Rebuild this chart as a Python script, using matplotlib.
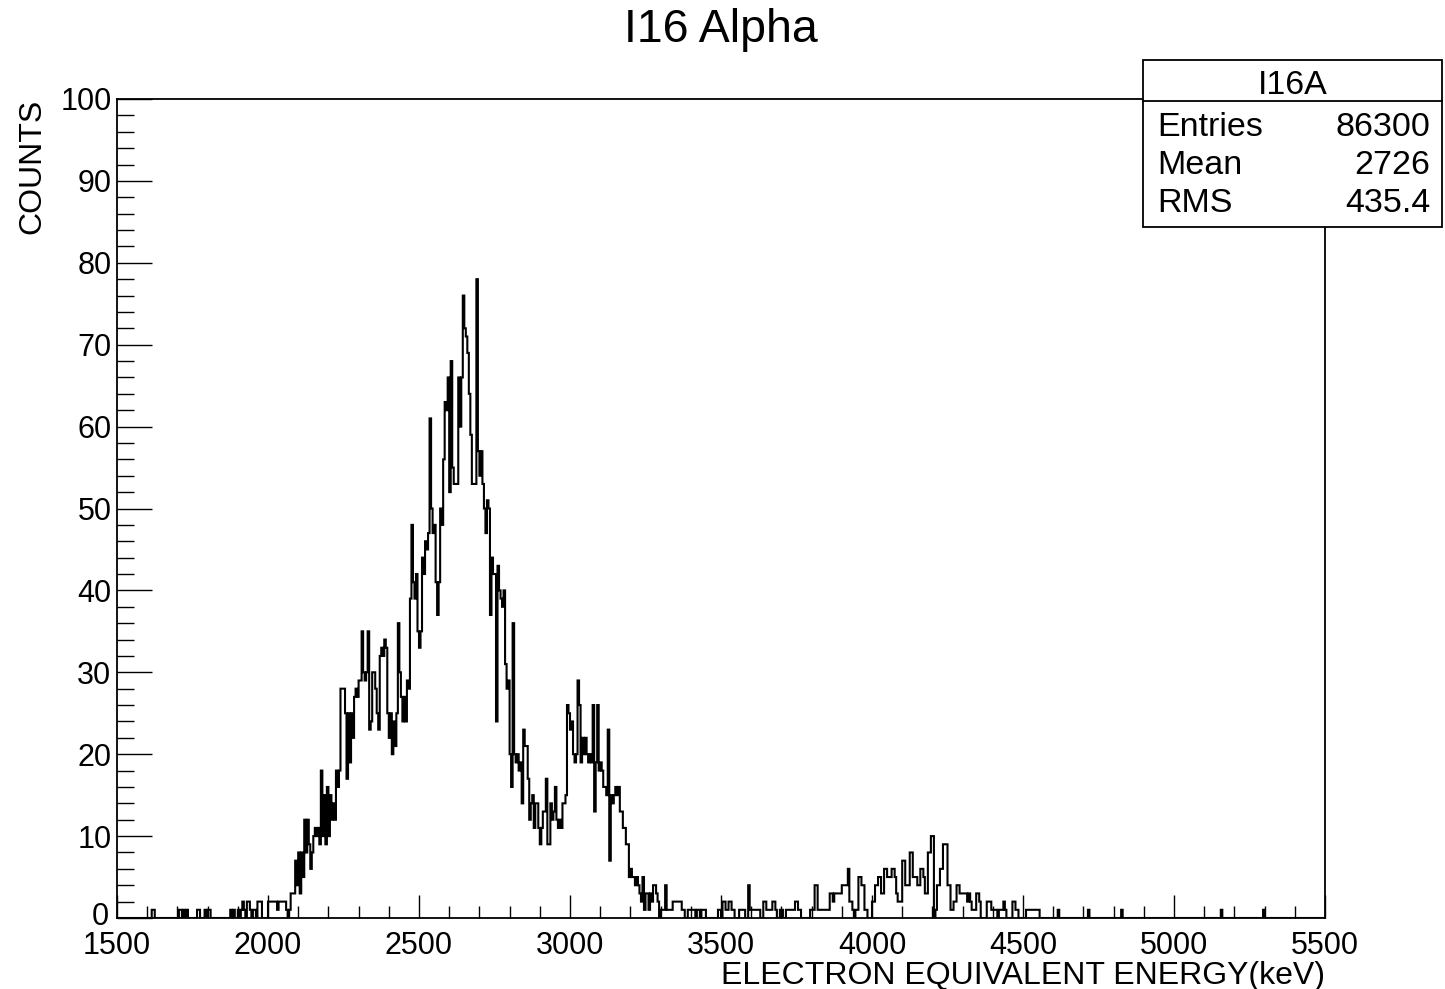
import numpy as np
import matplotlib
matplotlib.use("Agg")
import matplotlib.pyplot as plt
from matplotlib.patches import Rectangle
from matplotlib.lines import Line2D
from matplotlib.ticker import MultipleLocator, FixedLocator

plt.rcParams['font.family'] = ['Liberation Sans', 'DejaVu Sans']

# ---------------- data (5 keV bins) ----------------
bin_width = 5
x_min, x_max = 1500, 5500

counts_2000_2500 = [
    2, 2, 2, 2, 2, 2, 1, 2, 2, 2,
    2, 2, 1, 0, 1, 3, 3, 3, 7, 4,
    8, 3, 8, 5, 12, 8, 12, 9, 6, 8,
    10, 11, 10, 11, 9, 18, 10, 15, 9, 16,
    10, 15, 12, 14, 12, 18, 16, 18, 28, 28,
    28, 25, 17, 25, 19, 25, 22, 27, 28, 27,
    29, 29, 35, 30, 29, 30, 35, 23, 24, 30,
    30, 28, 25, 23, 32, 33, 32, 34, 33, 25,
    22, 25, 20, 24, 21, 25, 36, 30, 27, 24,
    27, 24, 29, 28, 39, 48, 41, 39, 42, 35,
]
counts_2500_3000 = [
    33, 35, 44, 42, 46, 45, 47, 61, 50, 47,
    48, 41, 37, 41, 50, 48, 56, 63, 62, 66,
    52, 68, 55, 53, 53, 53, 66, 60, 66, 76,
    72, 71, 69, 64, 59, 53, 53, 53, 78, 57,
    54, 57, 53, 50, 47, 51, 50, 37, 44, 42,
    42, 24, 43, 40, 39, 38, 40, 31, 28, 29,
    20, 16, 36, 20, 19, 20, 18, 19, 14, 23,
    21, 21, 17, 12, 14, 15, 11, 14, 14, 11,
    9, 11, 13, 13, 17, 9, 9, 14, 12, 13,
    16, 12, 11, 12, 11, 14, 14, 15, 26, 25,
]
counts_3000_3500 = [
    23, 24, 20, 19, 20, 29, 26, 19, 22, 20,
    22, 20, 19, 20, 19, 26, 13, 19, 26, 18,
    19, 18, 16, 16, 15, 23, 7, 15, 14, 15,
    16, 15, 16, 13, 13, 11, 11, 9, 9, 5,
    6, 5, 5, 4, 5, 4, 3, 2, 5, 1,
    3, 3, 1, 3, 2, 4, 4, 3, 2, 0,
    1, 1, 1, 4, 1, 1, 1, 1, 2, 2,
    2, 2, 2, 2, 1, 1, 0, 0, 1, 1,
    1, 1, 1, 0, 1, 1, 0, 1, 1, 1,
    0, 0, 0, 0, 0, 0, 0, 0, 1, 1,
]
counts_3500_4000 = [
    0, 2, 2, 1, 1, 2, 2, 1, 1, 0,
    0, 0, 1, 1, 1, 1, 0, 0, 4, 1,
    1, 1, 1, 1, 1, 1, 0, 0, 2, 2,
    1, 1, 1, 1, 2, 2, 1, 0, 0, 1,
    1, 0, 0, 1, 1, 1, 1, 1, 1, 2,
    2, 1, 1, 0, 0, 0, 0, 0, 0, 1,
    1, 1, 4, 4, 1, 1, 1, 1, 1, 1,
    1, 1, 3, 3, 2, 3, 3, 3, 3, 3,
    4, 4, 4, 4, 6, 2, 2, 1, 0, 1,
    1, 5, 5, 4, 4, 1, 1, 0, 0, 0,
]
counts_4000_4600 = [
    2, 2, 4, 4, 5, 5, 3, 3, 6, 6,
    5, 5, 5, 6, 6, 5, 3, 2, 2, 2,
    7, 7, 4, 4, 4, 8, 8, 5, 5, 5,
    4, 4, 6, 6, 5, 3, 3, 8, 8, 10,
    10, 0, 1, 4, 4, 6, 6, 9, 9, 9,
    4, 4, 1, 1, 2, 2, 4, 4, 3, 3,
    3, 3, 3, 2, 3, 2, 1, 1, 1, 3,
    3, 2, 0, 0, 0, 0, 2, 2, 2, 1,
    1, 1, 1, 0, 1, 1, 1, 2, 1, 0,
    0, 0, 0, 2, 2, 1, 1, 0, 0, 0,
    0, 0, 1, 1, 1, 1, 1, 1, 1, 1,
    1, 0, 0, 0, 0, 0, 0, 0, 0, 0,
]
low_energies = [1615, 1620, 1705, 1710, 1720, 1730, 1765, 1770, 1790, 1800, 1805,
                1875, 1885, 1900, 1910, 1915, 1920, 1930, 1935, 1940, 1950, 1955,
                1965, 1970, 1975]
low_counts = [1, 1, 1, 1, 1, 1, 1, 1, 1, 1, 1,
              1, 1, 1, 1, 2, 1, 2, 2, 1, 1, 1,
              2, 2, 2]
high_energies = [4615, 4715, 4825, 5155, 5295]
high_counts = [1, 1, 1, 1, 1]

y_ticks = [0, 10, 20, 30, 40, 50, 60, 70, 80, 90, 100]

stats_labels = ["Entries", "Mean", "RMS"]
stats_values = ["86300", "2726", "435.4"]

# ---------------- build histogram ----------------
edges = np.arange(x_min, x_max + bin_width, bin_width)
counts = np.zeros(len(edges) - 1)
dense = counts_2000_2500 + counts_2500_3000 + counts_3000_3500 + counts_3500_4000 + counts_4000_4600
i0 = (2000 - x_min) // bin_width
counts[i0:i0 + len(dense)] = dense
for e, c in zip(low_energies + high_energies, low_counts + high_counts):
    counts[(e - x_min) // bin_width] = c

# ---------------- figure ----------------
W, H = 1445, 989
fig = plt.figure(figsize=(W / 100, H / 100), dpi=100)
L, R, B, T = 117, 1325, 918, 99
ax = fig.add_axes([L / W, 1 - B / H, (R - L) / W, (B - T) / H])

ax.stairs(counts, edges, color='black', linewidth=1.5, baseline=0)
ax.set_xlim(x_min, x_max)
ax.set_ylim(0, 100)

ax.xaxis.set_major_locator(MultipleLocator(500))
ax.xaxis.set_minor_locator(MultipleLocator(100))
ax.yaxis.set_major_locator(FixedLocator(y_ticks))
ax.yaxis.set_minor_locator(MultipleLocator(2))
ax.tick_params(axis='x', which='major', direction='in', length=16.5, width=1.0,
               labelsize=22, pad=9, top=False)
ax.tick_params(axis='x', which='minor', direction='in', length=8.5, width=1.0, top=False)
ax.tick_params(axis='y', which='major', direction='in', length=25, width=1.0,
               labelsize=22, pad=4, right=False)
ax.tick_params(axis='y', which='minor', direction='in', length=12.5, width=1.0, right=False)
# the "0" label is drawn as a separate text, nudged up so it does not touch "1500"
ax.set_yticklabels([""] + [str(v) for v in y_ticks[1:]])
for lbl in ax.get_yticklabels():
    lbl.set_verticalalignment('center_baseline')
ax.annotate("0", xy=(0, 0), xycoords='axes fraction', xytext=(-5.5, 3.5),
            textcoords='offset points', ha='right', va='center_baseline', fontsize=22)
for s in ax.spines.values():
    s.set_linewidth(1.3)

# titles
fig.text(721 / W, 1 - 30 / H, "I16 Alpha", ha='center', va='center', fontsize=33.5)
fig.text(R / W, 1 - 976 / H, "ELECTRON EQUIVALENT ENERGY(keV)", ha='right', va='center', fontsize=23)
fig.text(32 / W, 1 - T / H, "COUNTS", ha='center', va='top', rotation=90, fontsize=23)

# stats box
bx0, bx1, by0, by1 = 1143, 1442, 60, 227
fig.patches.append(Rectangle((bx0 / W, 1 - by1 / H), (bx1 - bx0) / W, (by1 - by0) / H,
                             transform=fig.transFigure, facecolor='white', edgecolor='black',
                             linewidth=1.3, zorder=10))
fig.lines.append(Line2D([bx0 / W, bx1 / W], [1 - 101 / H, 1 - 101 / H], transform=fig.transFigure,
                        color='black', linewidth=1.3, zorder=11))
fig.text((bx0 + bx1) / 2 / W, 1 - 86 / H, "I16A", ha='center', va='center', fontsize=24.5, zorder=12)
for k, (lab, val) in enumerate(zip(stats_labels, stats_values)):
    yy = 1 - (127 + 38 * k) / H
    fig.text(1157 / W, yy, lab, ha='left', va='center', fontsize=24.5, zorder=12)
    fig.text(1430 / W, yy, val, ha='right', va='center', fontsize=24.5, zorder=12)

fig.savefig("out.png", dpi=100)
